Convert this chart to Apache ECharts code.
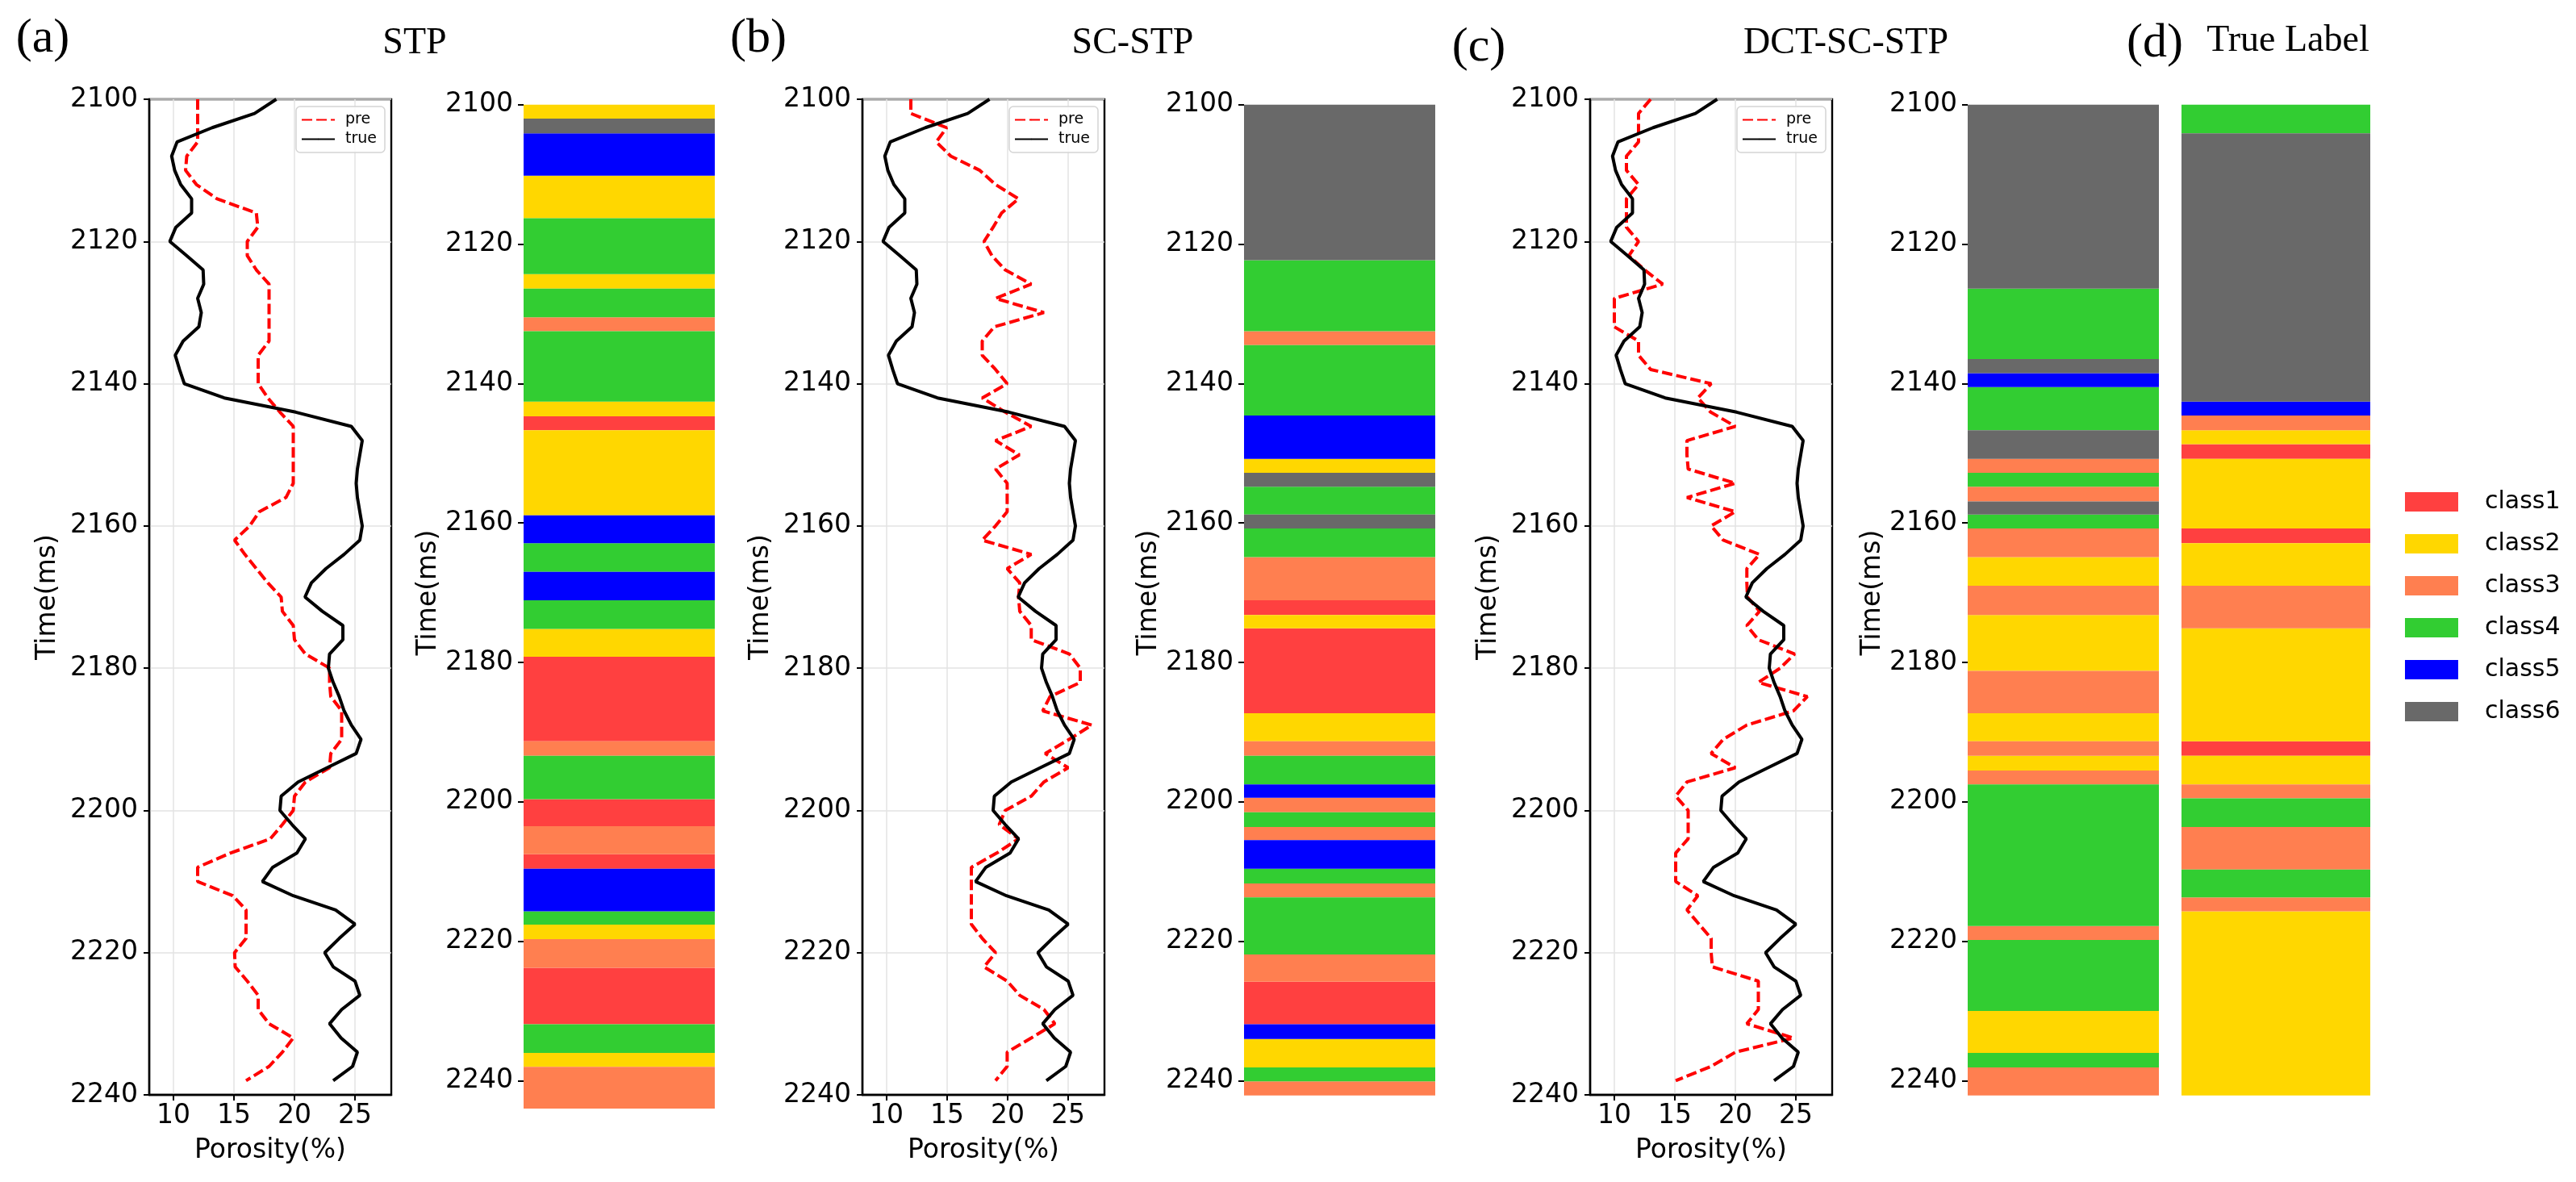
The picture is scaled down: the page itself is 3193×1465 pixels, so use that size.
<!DOCTYPE html>
<html><head><meta charset="utf-8">
<script src="https://cdn.jsdelivr.net/npm/echarts@6/dist/echarts.min.js"></script>
<style>html,body{margin:0;padding:0;background:#fff}#c{width:3193px;height:1465px}</style>
</head><body><div id="c"></div>
<script>
// ---------------- data ----------------
const times = [2100,2102,2104,2106,2108,2110,2112,2114,2116,2118,
  2120,2122,2124,2126,2128,2130,2132,2134,2136,2138,
  2140,2142,2144,2146,2148,2150,2152,2154,2156,2158,
  2160,2162,2164,2166,2168,2170,2172,2174,2176,2178,
  2180,2182,2184,2186,2188,2190,2192,2194,2196,2198,
  2200,2202,2204,2206,2208,2210,2212,2214,2216,2218,
  2220,2222,2224,2226,2228,2230,2232,2234,2236,2238];

const trueVals = [18.5,16.7,13.2,10.3,9.85,10.1,10.6,11.5,11.5,10.2,
  9.7,11.1,12.45,12.5,12.0,12.3,12.1,10.8,10.15,10.5,
  10.9,14.2,20.1,24.7,25.6,25.4,25.2,25.1,25.2,25.4,
  25.6,25.4,24.1,22.6,21.4,20.87,22.3,24.0,24.0,22.9,
  22.8,23.2,23.7,24.1,24.7,25.5,25.1,22.7,20.3,18.9,
  18.8,19.8,20.9,20.2,18.2,17.35,19.9,23.4,25.0,23.7,
  22.5,23.2,25.0,25.4,23.9,22.9,23.85,25.2,24.8,23.2];

const stpPre = [12.0,12.0,12.0,12.0,11.1,11.0,11.9,13.6,16.85,16.97,
  16.1,16.1,16.85,17.9,17.9,17.9,17.9,17.9,17.0,17.0,
  17.0,17.8,18.8,19.9,19.9,19.9,19.9,19.9,19.3,17.1,
  16.3,15.05,15.9,16.85,17.8,18.9,19.0,19.9,20.0,20.9,
  22.9,22.9,23.0,23.9,23.9,23.9,23.0,22.9,20.9,20.0,
  19.9,19.0,18.0,14.7,12.0,12.0,14.9,16.0,16.0,16.0,
  15.05,15.1,16.1,17.0,17.0,17.9,19.9,19.0,17.9,16.0];

const scPre = [12.0,12.0,14.96,14.1,15.3,17.7,19.0,20.9,19.5,18.8,
  18.05,18.7,19.8,21.95,19.0,23.0,18.9,17.9,17.9,19.0,
  19.96,17.9,19.8,21.95,19.0,20.97,19.0,19.96,19.96,19.96,
  19.0,17.9,21.95,19.96,21.0,20.9,21.0,21.95,21.95,25.1,
  26.0,26.0,23.5,22.9,26.95,25.1,23.1,25.0,23.0,21.95,
  19.8,19.3,20.9,19.1,17.0,17.0,17.0,17.0,17.0,17.9,
  19.0,18.05,19.96,21.0,23.0,23.9,21.95,19.96,19.96,19.0];

const dctPre = [13.0,12.0,12.0,12.0,11.0,11.0,12.0,11.0,11.0,11.0,
  12.0,11.2,12.5,14.0,10.0,10.0,10.0,12.0,12.0,13.0,
  18.0,16.9,17.96,20.0,16.0,16.0,16.1,20.0,16.0,20.0,
  18.0,19.0,22.0,20.95,20.95,21.0,22.0,20.95,21.9,24.9,
  23.7,21.9,25.95,24.8,20.95,19.0,18.0,20.0,16.0,15.07,
  16.1,16.1,16.1,15.07,15.07,15.07,16.9,16.0,17.0,18.0,
  18.0,18.1,21.9,21.9,21.9,20.95,24.8,20.0,18.0,15.07];

// class columns: boundaries (ms) and class id (1..6) of each layer
const stpBreaks = [2100,2102,2104.1,2110.2,2116.3,2124.3,2126.4,2130.5,2132.5,2142.6,2144.7,2146.7,2158.9,2162.9,2167.0,2171.1,2175.2,2179.2,2191.3,2193.4,2199.6,2203.5,2207.5,2209.6,2215.7,2217.6,2219.7,2223.8,2231.9,2236.0,2238.0,2244.0];
const stpClasses = [2,6,5,2,4,2,4,3,4,2,1,2,5,4,5,4,2,1,3,4,1,3,1,5,4,2,3,1,4,2,3];

const scBreaks = [2100,2122.3,2132.5,2134.5,2144.6,2150.8,2152.8,2154.8,2158.8,2160.8,2164.9,2171.1,2173.2,2175.1,2187.3,2191.3,2193.4,2197.5,2199.4,2201.5,2203.6,2205.5,2209.6,2211.7,2213.7,2221.9,2225.8,2231.9,2234.0,2238.1,2240.1,2242.1];
const scClasses = [6,4,3,4,5,2,6,4,6,4,3,1,2,1,2,3,4,5,3,4,3,5,4,3,4,3,1,5,2,4,3];

const dctBreaks = [2100,2126.4,2136.5,2138.5,2140.5,2146.7,2150.8,2152.8,2154.8,2156.9,2158.8,2160.8,2164.9,2169.0,2173.2,2181.2,2187.3,2191.3,2193.4,2195.5,2197.5,2217.8,2219.8,2230.0,2236.0,2238.1,2242.1];
const dctClasses = [6,4,6,5,4,6,3,4,3,6,4,3,2,3,2,3,2,3,2,3,4,3,4,2,4,3];

const labelBreaks = [2100,2104.1,2142.6,2144.6,2146.7,2148.7,2150.8,2160.8,2162.9,2169.0,2175.1,2191.3,2193.4,2197.5,2199.5,2203.6,2209.7,2213.7,2215.7,2242.1];
const labelClasses = [4,6,5,3,2,1,2,1,2,3,2,1,2,3,4,3,4,3,2];

const classNames = ['class1','class2','class3','class4','class5','class6'];
const classColors = ['#FF4040','#FFD700','#FF7F50','#32CD32','#0000FF','#696969'];
const timeTicks = [2100,2120,2140,2160,2180,2200,2220,2240];
const porosityTicks = [10,15,20,25];
const panelTitles = ['STP','SC-STP','DCT-SC-STP','True Label'];
const panelLetters = ['(a)','(b)','(c)','(d)'];

// ---------------- layout ----------------
const FONT = 'DejaVu Sans';
const plain = v => String(v);
const lineLefts = [185,1069,1971];
const lineTop = 123, lineH = 1234, lineW = 300;
const barLefts = [649,1542,2439,2704];
const barTop = 129.7, barH = 1209.8, barW = 237;

const grids = [], xAxes = [], yAxes = [], series = [], legends = [];
const preSets = [stpPre, scPre, dctPre];

lineLefts.forEach((left, i) => {
  grids.push({left: left, top: lineTop, width: lineW, height: lineH, show: true,
    borderColor: '#000', borderWidth: 2.4, backgroundColor: 'transparent'});
  xAxes.push({type: 'value', gridIndex: i, min: 8, max: 28,
    axisLine: {show: true, lineStyle: {color: '#000', width: 2.4}},
    axisTick: {show: true, customValues: porosityTicks, length: 7, lineStyle: {color: '#000', width: 2}},
    axisLabel: {customValues: porosityTicks, fontSize: 33, fontFamily: FONT, color: '#000', margin: 10, formatter: plain},
    splitLine: {show: true, lineStyle: {color: '#e3e3e3', width: 1.5}},
    name: 'Porosity(%)', nameLocation: 'middle', nameGap: 53,
    nameTextStyle: {fontSize: 33, fontFamily: FONT, color: '#000'}});
  yAxes.push({type: 'value', gridIndex: i, inverse: true, min: 2100, max: 2240, interval: 20,
    axisLine: {show: true, lineStyle: {color: '#000', width: 2.4}},
    axisTick: {show: true, length: 7, lineStyle: {color: '#000', width: 2}},
    axisLabel: {fontSize: 33, fontFamily: FONT, color: '#000', margin: 14, formatter: plain},
    splitLine: {show: true, lineStyle: {color: '#e3e3e3', width: 1.5}},
    name: 'Time(ms)', nameLocation: 'middle', nameGap: 109, nameRotate: 90,
    nameTextStyle: {fontSize: 33, fontFamily: FONT, color: '#000'}});
  series.push({type: 'line', name: 'pre', xAxisIndex: i, yAxisIndex: i, symbol: 'none',
    data: times.map((t, j) => [preSets[i][j], t]),
    lineStyle: {color: '#FF0000', width: 4, type: [13, 5]}, itemStyle: {color: '#FF0000'}, z: 3});
  series.push({type: 'line', name: 'true', xAxisIndex: i, yAxisIndex: i, symbol: 'none',
    data: times.map((t, j) => [trueVals[j], t]),
    lineStyle: {color: '#000', width: 4}, itemStyle: {color: '#000'}, z: 4});
  legends.push({data: ['pre','true'], orient: 'vertical', left: left + 182, top: 132,
    itemWidth: 41, itemHeight: 2, itemGap: 5, selectedMode: false,
    backgroundColor: 'rgba(255,255,255,0.85)', borderColor: '#d4d4d4', borderWidth: 1.5, borderRadius: 5,
    padding: [7, 10, 7, 6],
    textStyle: {fontSize: 19, fontFamily: FONT, color: '#000', padding: [0, 0, 0, 8]}});
});

const barSets = [[stpBreaks, stpClasses], [scBreaks, scClasses], [dctBreaks, dctClasses], [labelBreaks, labelClasses]];
barLefts.forEach((left, j) => {
  const gi = 3 + j;
  grids.push({left: left, top: barTop, width: j === 3 ? 234 : barW, height: barH});
  xAxes.push({type: 'value', gridIndex: gi, min: 0, max: 1, show: false});
  yAxes.push({type: 'value', gridIndex: gi, inverse: true, min: 2100, max: 2240, interval: 20,
    show: j !== 3,
    axisLine: {show: false},
    axisTick: {show: true, length: 7, lineStyle: {color: '#000', width: 2}},
    axisLabel: {fontSize: 33, fontFamily: FONT, color: '#000', margin: 13, formatter: plain},
    splitLine: {show: false},
    name: 'Time(ms)', nameLocation: 'middle', nameGap: 99, nameRotate: 90,
    nameTextStyle: {fontSize: 33, fontFamily: FONT, color: '#000'}});
  const [brk, cls] = barSets[j];
  classNames.forEach((cn, k) => {
    const data = [];
    cls.forEach((c, s) => { if (c === k + 1) data.push([0, 1, brk[s], brk[s + 1]]); });
    series.push({type: 'custom', name: cn, xAxisIndex: gi, yAxisIndex: gi, clip: false, silent: true,
      itemStyle: {color: classColors[k]},
      encode: {x: [0, 1], y: [2, 3]},
      data: data,
      renderItem: function (params, api) {
        const p0 = api.coord([api.value(0), api.value(2)]);
        const p1 = api.coord([api.value(1), api.value(3)]);
        return {type: 'rect', shape: {x: p0[0], y: p0[1], width: p1[0] - p0[0], height: p1[1] - p0[1]},
          style: {fill: classColors[k], stroke: null}};
      }});
  });
});

legends.push({data: classNames, orient: 'vertical', left: 2976, top: 602, icon: 'rect',
  itemWidth: 66, itemHeight: 24, itemGap: 22, selectedMode: false,
  textStyle: {fontSize: 30, fontFamily: FONT, color: '#000', padding: [0, 0, 0, 28]}});

const titleSpecs = [
  {t: panelLetters[0], x: 53, y: 48, s: 60}, {t: panelTitles[0], x: 514, y: 54, s: 46},
  {t: panelLetters[1], x: 940, y: 48, s: 60}, {t: panelTitles[1], x: 1404, y: 54, s: 46},
  {t: panelLetters[2], x: 1833, y: 59, s: 60}, {t: panelTitles[2], x: 2288, y: 54, s: 46},
  {t: panelLetters[3], x: 2671, y: 54, s: 60}, {t: panelTitles[3], x: 2836, y: 51, s: 46}
];
const graphics = titleSpecs.map(o => ({type: 'text', x: o.x, y: o.y, silent: true,
  style: {text: o.t, fontSize: o.s, fontFamily: 'Liberation Serif', fill: '#000', align: 'center', verticalAlign: 'middle'}}));

const chart = echarts.init(document.getElementById('c'), null, {renderer: 'canvas'});
chart.setOption({
  animation: false,
  backgroundColor: '#fff',
  grid: grids, xAxis: xAxes, yAxis: yAxes, series: series, legend: legends,
  graphic: graphics
});
</script>
</body></html>
